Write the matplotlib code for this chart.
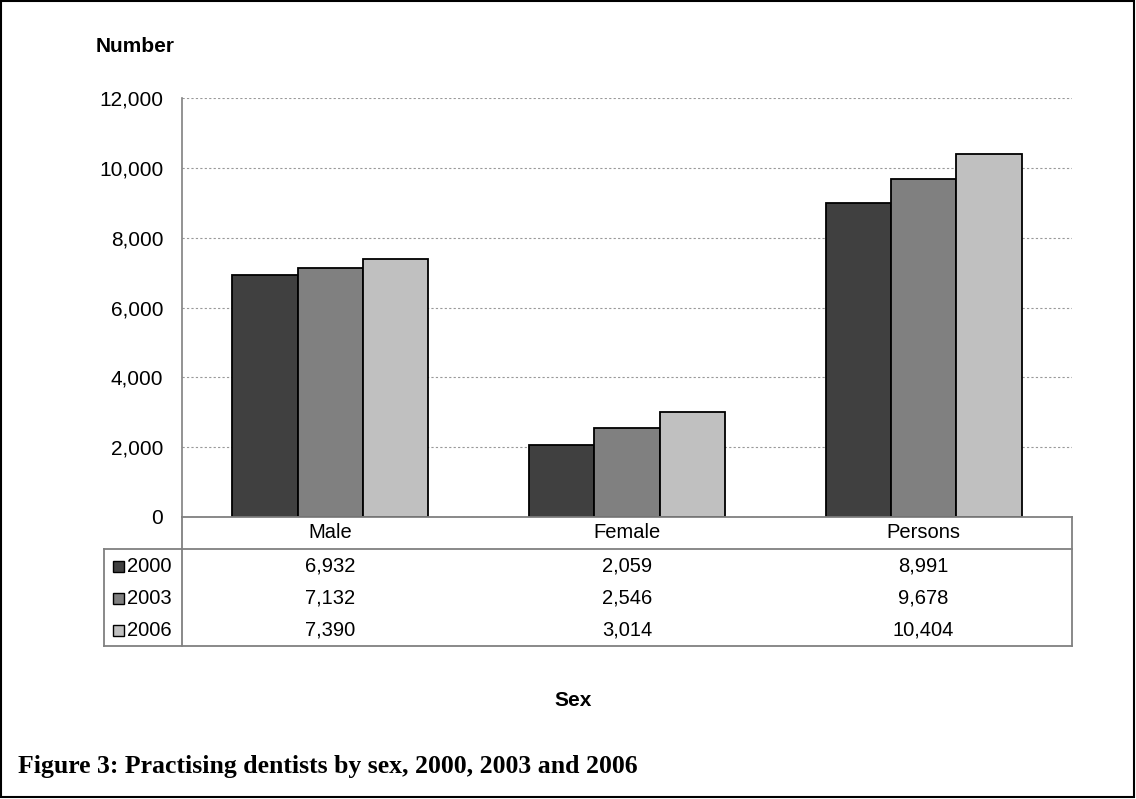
import matplotlib.pyplot as plt
import matplotlib.transforms as mtransforms
from matplotlib.lines import Line2D
from matplotlib.patches import Rectangle
import numpy as np

categories = ["Male", "Female", "Persons"]
years = ["2000", "2003", "2006"]
v2000 = [6932, 2059, 8991]
v2003 = [7132, 2546, 9678]
v2006 = [7390, 3014, 10404]
colors = ["#404040", "#808080", "#c0c0c0"]

plt.rcParams["font.family"] = ["Liberation Sans", "DejaVu Sans"]

W, H = 1136, 799
fig = plt.figure(figsize=(W / 100, H / 100), dpi=100)

def fx(px):
    return px / W

def fy(py):
    return 1 - py / H

# plot area in pixels
left, right, top, bottom = 182, 1072, 98, 517
ax = fig.add_axes([fx(left), fy(bottom), fx(right - left), (bottom - top) / H])

series = [v2000, v2003, v2006]
x = np.arange(len(categories))
w = 0.22
for i, vals in enumerate(series):
    ax.bar(x + (i - 1) * w, vals, w, color=colors[i], edgecolor="black",
           linewidth=1.3, zorder=3, label=years[i])

ax.set_xlim(-0.5, 2.5)
ax.set_ylim(0, 12000)
ax.set_yticks(range(0, 12001, 2000))
ax.set_yticklabels([f"{t:,}" for t in range(0, 12001, 2000)], fontsize=15)
ax.tick_params(axis="y", length=0, pad=13.5)
ax.set_xticks([])
ax.yaxis.grid(True, linestyle=(0, (2, 2)), color="#999999", linewidth=0.8)
for s in ["top", "right", "bottom"]:
    ax.spines[s].set_visible(False)
ax.spines["left"].set_color("#808080")
ax.spines["left"].set_linewidth(1.2)

# data table below the axis
gray = "#808080"
def hline(x0, x1, y):
    fig.add_artist(Line2D([fx(x0), fx(x1)], [fy(y), fy(y)], color=gray, lw=1.3))

def vline(xp, y0, y1):
    fig.add_artist(Line2D([fx(xp), fx(xp)], [fy(y0), fy(y1)], color=gray, lw=1.3))

hline(left, right, bottom)
hline(104, right, 549)
hline(104, right, 646)
vline(left, bottom, 646)
vline(right, bottom, 646)
vline(104, 549, 646)

blend = mtransforms.blended_transform_factory(ax.transData, fig.transFigure)
for i, c in enumerate(categories):
    ax.text(i, fy(533), c, transform=blend, ha="center", va="center", fontsize=14.5)

row_y = [566, 598, 630]
for r, vals in enumerate(series):
    for i, v in enumerate(vals):
        ax.text(i, fy(row_y[r]), f"{v:,}", transform=blend, ha="center",
                va="center", fontsize=14.5)
    fig.add_artist(Rectangle((fx(113), fy(row_y[r] + 5.5)), fx(11), 11 / H,
                             facecolor=colors[r], edgecolor="black", lw=1.0))
    fig.text(fx(127), fy(row_y[r]), years[r], ha="left", va="center", fontsize=14.5)

fig.text(fx(96), fy(46), "Number", ha="left", va="center", fontsize=15,
         fontweight="bold")
fig.text(fx(573), fy(700), "Sex", ha="center", va="center", fontsize=15,
         fontweight="bold")
fig.text(fx(18), fy(767), "Figure 3: Practising dentists by sex, 2000, 2003 and 2006",
         ha="left", va="center", fontsize=18.5, fontweight="bold",
         family=["Liberation Serif"])

fig.add_artist(Rectangle((fx(1), fy(797)), fx(1133), 796 / H, fill=False,
                         edgecolor="black", lw=1.5))

fig.savefig("out.png", dpi=100)
